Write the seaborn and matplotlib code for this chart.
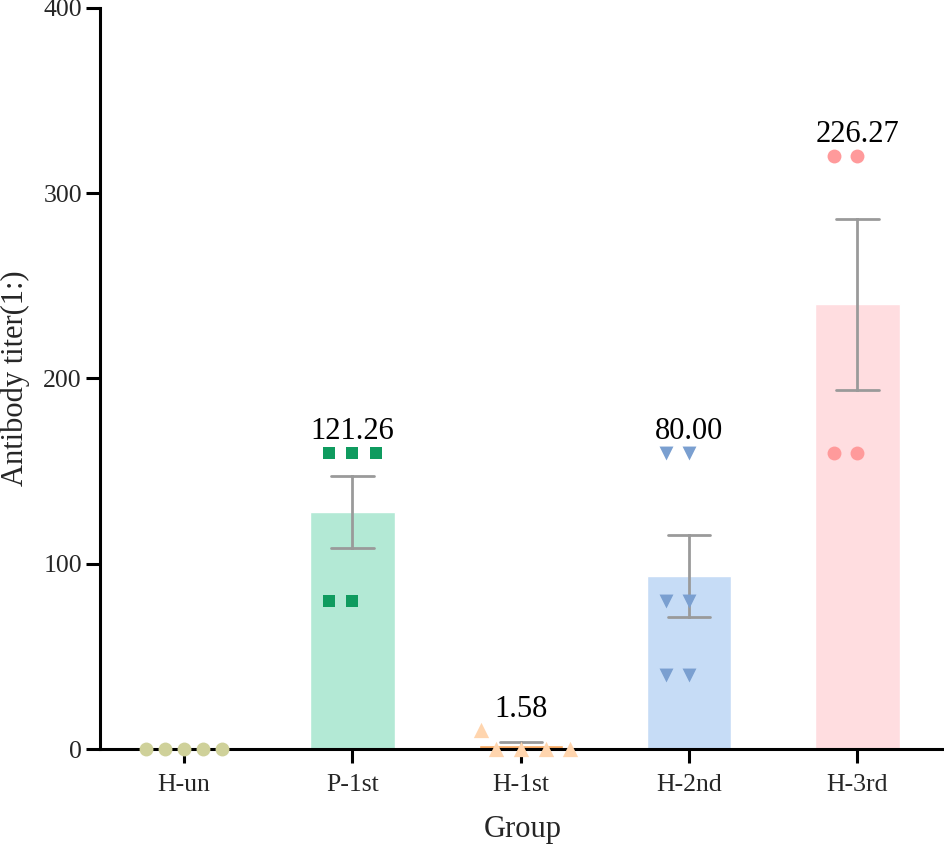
import numpy as np
import pandas as pd
import matplotlib
matplotlib.use("Agg")
import matplotlib.pyplot as plt
import seaborn as sns

# ---- data ----
groups = ["H-un", "P-1st", "H-1st", "H-2nd", "H-3rd"]
h_un = [0, 0, 0, 0, 0]
p_1st = [160, 160, 160, 80, 80]
h_1st = [10, 0, 0, 0, 0]
h_2nd = [160, 160, 80, 80, 40, 40]
h_3rd = [320, 320, 160, 160]
gm_labels = ["", "121.26", "1.58", "80.00", "226.27"]

# ---- styles ----
bar_colors = ["#D0D29C", "#B3E9D5", "#F6A862", "#C6DCF6", "#FFDDE0"]
pt_colors = ["#CFD19A", "#0F9B5F", "#FFD5AE", "#7A9FD0", "#FF9A9B"]
markers = ["o", "s", "^", "v", "o"]
spread_sizes = [13, 16, 17, 16, 16]   # spacing used by the swarm layout
draw_sizes = [10, 9, 11, 10, 10]      # visible marker diameters (pt)

sns.set_style("ticks")
plt.rcParams["font.family"] = ["Liberation Serif", "DejaVu Serif"]

values = [h_un, p_1st, h_1st, h_2nd, h_3rd]
df = pd.DataFrame({
    "group": np.concatenate([[g] * len(v) for g, v in zip(groups, values)]),
    "titer": np.concatenate([np.asarray(v, dtype=float) for v in values]),
})

fig = plt.figure(figsize=(9.45, 8.46), dpi=100)
ax = fig.add_axes([100 / 945, 97 / 846, 845 / 945, 741 / 846])

sns.barplot(data=df, x="group", y="titer", order=groups, hue="group",
            hue_order=groups, palette=bar_colors, legend=False, width=0.5,
            saturation=1, errorbar="se", capsize=0.25,
            err_kws={"color": "#9a9a9a", "linewidth": 2}, ax=ax)

point_sets = []
for i, g in enumerate(groups):
    n_before = len(ax.collections)
    sns.swarmplot(data=df[df["group"] == g], x="group", y="titer", order=groups,
                  marker=markers[i], color=pt_colors[i], size=spread_sizes[i],
                  linewidth=0, ax=ax, zorder=4)
    point_sets.append((i, ax.collections[n_before:]))

ax.set_ylim(0, 400)
ax.set_xlim(-0.5, 4.52)
ax.set_yticks([0, 100, 200, 300, 400])
ax.set_xticks(range(len(groups)))
ax.set_xticklabels(groups)

# lay out the swarm with the wider spacing, then freeze it and shrink the markers
fig.canvas.draw()
for i, colls in point_sets:
    for coll in colls:
        if "draw" in coll.__dict__:
            del coll.draw
        coll.set_sizes([draw_sizes[i] ** 2])

for coll in ax.collections:
    coll.set_clip_on(False)

for i, (lab, v) in enumerate(zip(gm_labels, values)):
    if lab:
        ax.annotate(lab, (i, max(v)), xytext=(0, 10), textcoords="offset points",
                    ha="center", va="baseline", fontsize=22, color="black")

ax.set_xlabel("Group", fontsize=22, labelpad=14)
ax.set_ylabel("Antibody titer(1:)", fontsize=22)
ax.yaxis.set_label_coords(-0.0834, 0.5)
ax.tick_params(axis="both", labelsize=18.5, width=2.2, length=10, color="black")
ax.tick_params(axis="x", pad=8)
ax.tick_params(axis="y", pad=3)
for s in ["top", "right"]:
    ax.spines[s].set_visible(False)
for s in ["left", "bottom"]:
    ax.spines[s].set_linewidth(2.2)
    ax.spines[s].set_color("black")
    ax.spines[s].set_zorder(3)

fig.savefig("out.png", dpi=100)
